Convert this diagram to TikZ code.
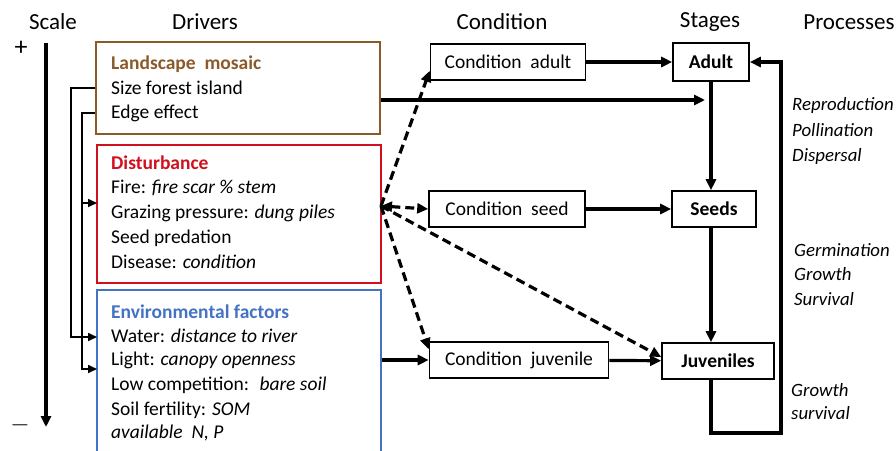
\documentclass[tikz,border=0pt]{standalone}
\usepackage{fontspec}
\setmainfont{Carlito}
\usetikzlibrary{arrows.meta,positioning,calc}
\definecolor{landbrown}{HTML}{8B5A2B}
\definecolor{disred}{HTML}{D0101E}
\definecolor{envblue}{HTML}{4472C4}

\begin{document}
\begin{tikzpicture}[x=1pt, y=-1pt,
  every node/.style={font=\fontsize{19.5}{22}\selectfont, inner sep=0pt},
  hdr/.style ={font=\fontsize{23}{26}\selectfont},
  drv/.style ={draw, line width=1.6pt, minimum width=284pt},
  ln/.style  ={anchor=west},
  ttl/.style ={ln, font=\fontsize{19.5}{22}\selectfont\bfseries},
  cbox/.style={draw, line width=1.6pt, minimum height=36pt},
  sbox/.style={cbox, font=\fontsize{19.5}{22}\selectfont\bfseries},
  proc/.style={anchor=west, font=\fontsize{18.8}{22}\selectfont\itshape},
  arr/.style ={-{Triangle[length=11pt,width=10pt]}, line width=3.2pt},
  darr/.style={arr, dash pattern=on 9pt off 5pt},
  tarr/.style={-{Triangle[length=9pt,width=8pt]}, line width=1.6pt}
]
\useasboundingbox (0,0) rectangle (896,450);

%% ─── headers ───────────────────────────────────────────────────────────────
\node[hdr] (h_scale) at (53,22)  {Scale};
\node[hdr] (h_drv)   at (205,22) {Drivers};
\node[hdr] (h_cond)  at (502,22) {Condition};
\node[hdr] (h_stg)   at (710,22) {Stages};
\node[hdr] (h_proc)  at (849,22) {Processes};

%% ─── scale ─────────────────────────────────────────────────────────────────
\node (sc_plus)  at (21,48)  {\fontsize{26}{26}\selectfont +};
\node (sc_minus) at (20,425) {\fontsize{26}{26}\selectfont $-$};
\coordinate (sc_top) at (46,43);
\coordinate (sc_bot) at (46,427);
\draw[arr] (sc_top) -- (sc_bot);

%% ─── drivers ───────────────────────────────────────────────────────────────
\node[drv, draw=landbrown, minimum height=92pt]  (ls_box) at (238,88)  {};
\node[ttl, text=landbrown] (ls_t)    at (111,64)  {Landscape\ \ mosaic};
\node[ln]                  (ls_size) at (111,88)  {Size forest island};
\node[ln]                  (ls_edge) at (111,113) {Edge effect};

\node[drv, draw=disred, minimum height=138pt]    (di_box) at (239,214) {};
\node[ttl, text=disred]    (di_t)    at (111,163) {Disturbance};
\node[ln]                  (di_fire) at (111,188) {Fire: \textit{fire scar \% stem}};
\node[ln]                  (di_grz)  at (111,213) {Grazing pressure: \textit{dung piles}};
\node[ln]                  (di_pred) at (111,238) {Seed predation};
\node[ln]                  (di_dis)  at (111,262) {Disease: \textit{condition}};

\node[drv, draw=envblue, minimum height=172pt]   (en_box) at (239,376) {};
\node[ttl, text=envblue]   (en_t)     at (111,312) {Environmental factors};
\node[ln]                  (en_water) at (111,336) {Water: \textit{distance to river}};
\node[ln]                  (en_light) at (111,360) {Light: \textit{canopy openness}};
\node[ln]                  (en_comp)  at (111,385) {Low competition: \ \textit{bare soil}};
\node[ln]                  (en_soil)  at (111,410) {Soil fertility: \textit{SOM}};
\node[ln]                  (en_np)    at (111,433) {\textit{available\ \ N, P}};

%% ─── condition + stages ────────────────────────────────────────────────────
\node[cbox, minimum width=155pt] (ca) at (508,62)  {Condition\ \ adult};
\node[cbox, minimum width=156pt] (cs) at (507,209) {Condition\ \ seed};
\node[cbox, minimum width=179pt] (cj) at (519,360) {Condition\ \ juvenile};

\node[sbox, minimum width=76pt, minimum height=38pt] (st_ad) at (711,62)  {Adult};
\node[sbox, minimum width=84pt]                      (st_sd) at (714,209) {Seeds};
\node[sbox, minimum width=112pt]                     (st_jv) at (718,361) {Juveniles};

%% ─── processes ─────────────────────────────────────────────────────────────
\node[proc] (pr_rep)  at (792,105) {Reproduction};
\node[proc] (pr_pol)  at (792,130) {Pollination};
\node[proc] (pr_dsp)  at (792,156) {Dispersal};
\node[proc] (pr_grm)  at (794,250) {Germination};
\node[proc] (pr_gr1)  at (794,274) {Growth};
\node[proc] (pr_sur)  at (794,299) {Survival};
\node[proc] (pr_gr2)  at (791,390) {Growth};
\node[proc] (pr_sv2)  at (791,413) {survival};

%% ─── driver links (thin) ───────────────────────────────────────────────────
\coordinate (tk_a)   at (71,0);
\coordinate (tk_b)   at (82,0);
\coordinate (di_in)  at (97,203);
\coordinate (en_in1) at (97,337);
\coordinate (en_in2) at (97,369);
\draw[tarr] (ls_box.west |- ls_size) -| (tk_a |- en_in1) -- (en_in1);
\draw[tarr] (ls_box.west |- ls_edge) -| (tk_b |- en_in2) -- (en_in2);
\draw[tarr] (tk_b |- di_in) -- (di_in);

%% ─── solid links ───────────────────────────────────────────────────────────
\coordinate (ad_hit) at (705,100);
\coordinate (loop_r) at (781,433);
\draw[arr] (ls_box.east |- ad_hit) -- (ad_hit);
\draw[arr] (en_box.east |- cj.west) -- (cj.west);
\foreach \a/\b in {ca/st_ad, cs/st_sd, cj/st_jv}
  \draw[arr] (\a) -- (\b);
\draw[arr] (st_ad.south) -- (st_ad.south |- st_sd.north);
\draw[arr] (st_ad.south |- st_sd.south) -- (st_ad.south |- st_jv.north);
\draw[arr] (st_ad.south |- st_jv.south) -- (st_ad.south |- loop_r)
           -- (loop_r) -- (loop_r |- st_ad.east) -- (st_ad.east);

%% ─── dashed links from disturbance ─────────────────────────────────────────
\coordinate (di_out) at (381,206);
\draw[darr] (di_out) -- ([yshift=10pt]ca.south west);
\draw[darr, {Triangle[length=11pt,width=10pt]}-{Triangle[length=11pt,width=10pt]}] (di_out) -- (cs.west);
\draw[darr] (di_out) -- ([yshift=-8pt]cj.north west);
\draw[darr] (di_out) -- ([yshift=4pt]st_jv.west);

\end{tikzpicture}
\end{document}
